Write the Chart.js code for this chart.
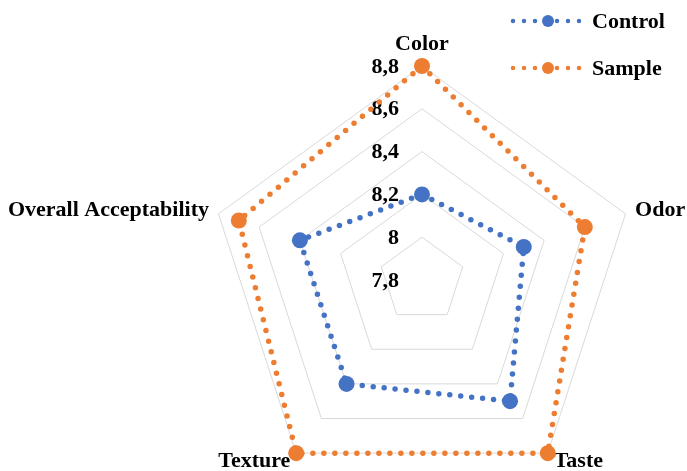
<!DOCTYPE html>
<html>
<head>
<meta charset="utf-8">
<script src="https://cdn.jsdelivr.net/npm/chart.js@4/dist/chart.umd.min.js"></script>
<style>
  html, body { margin: 0; padding: 0; background: #ffffff; }
  #wrap { width: 687px; height: 471px; position: relative; }
</style>
</head>
<body>
<div id="wrap"><canvas id="radar"></canvas></div>
<script>
// Sensory attributes and mean scores
const attributes = ['Color', 'Odor', 'Taste', 'Texture', 'Overall Acceptability'];
const controlScores = [8.2, 8.3, 8.5, 8.4, 8.4];
const sampleScores = [8.8, 8.6, 8.8, 8.8, 8.7];
const tickValues = [7.8, 8.0, 8.2, 8.4, 8.6, 8.8];
const tickLabels = ['7,8', '8', '8,2', '8,4', '8,6', '8,8'];
const seriesNames = ['Control', 'Sample'];

const BLUE = '#4472C4';
const ORANGE = '#ED7D31';
const FONT = 'bold 22px "Liberation Serif", "Times New Roman", serif';

// Labels, tick values and the legend are drawn here with the radial scale's own geometry
const decorations = {
  id: 'decorations',
  beforeDatasetsDraw(chart) {
    const r = chart.scales.r;
    const ctx = chart.ctx;
    ctx.save();
    ctx.font = FONT;
    ctx.fillStyle = '#000000';

    // tick values, right-aligned just left of the vertical axis
    ctx.textAlign = 'right';
    ctx.textBaseline = 'middle';
    tickValues.forEach((v, i) => {
      const d = r.getDistanceFromCenterForValue(v);
      ctx.fillText(tickLabels[i], r.xCenter - 23, r.yCenter - d + 1);
    });

    // attribute names around the outer ring
    attributes.forEach((name, i) => {
      const angle = r.getIndexAngle(i) - Math.PI / 2;
      const cos = Math.cos(angle);
      if (Math.abs(cos) < 0.05) {
        const p = r.getPointPosition(i, r.drawingArea + 22);
        ctx.textAlign = 'center';
        ctx.fillText(name, p.x, p.y);
      } else {
        const p = r.getPointPosition(i, r.drawingArea + 10);
        ctx.textAlign = cos > 0 ? 'left' : 'right';
        ctx.fillText(name, p.x, p.y);
      }
    });
    ctx.restore();
  },
  afterDraw(chart) {
    const ctx = chart.ctx;
    ctx.save();
    ctx.font = FONT;
    ctx.textBaseline = 'middle';
    ctx.textAlign = 'left';
    const rows = [21, 68];
    chart.data.datasets.forEach((ds, i) => {
      const y = rows[i];
      ctx.strokeStyle = ds.borderColor;
      ctx.lineWidth = 4.5;
      ctx.lineCap = 'round';
      ctx.setLineDash([0, 11]);
      ctx.beginPath();
      ctx.moveTo(513, y);
      ctx.lineTo(581, y);
      ctx.stroke();
      ctx.setLineDash([]);
      ctx.fillStyle = ds.borderColor;
      ctx.beginPath();
      ctx.arc(548, y, 6, 0, Math.PI * 2);
      ctx.fill();
      ctx.fillStyle = '#000000';
      ctx.fillText(ds.label, 592, y + 1);
    });
    ctx.restore();
  }
};

const makeSeries = (label, values, color) => ({
  label,
  data: values,
  borderColor: color,
  backgroundColor: color,
  fill: false,
  borderWidth: 5.5,
  borderDash: [0, 11],
  borderCapStyle: 'round',
  pointRadius: 8,
  pointHoverRadius: 8,
  pointBorderWidth: 0,
  pointBackgroundColor: color,
  tension: 0,
  clip: false
});

new Chart(document.getElementById('radar'), {
  type: 'radar',
  data: {
    labels: attributes,
    datasets: [
      makeSeries(seriesNames[0], controlScores, BLUE),
      makeSeries(seriesNames[1], sampleScores, ORANGE)
    ]
  },
  options: {
    responsive: true,
    maintainAspectRatio: false,
    animation: false,
    devicePixelRatio: 1,
    layout: { padding: 0 },
    plugins: {
      legend: { display: false },
      tooltip: { enabled: false }
    },
    scales: {
      r: {
        min: 7.8,
        max: 8.8,
        afterBuildTicks(scale) {
          scale.ticks = tickValues.map(v => ({ value: v }));
        },
        afterFit(scale) {
          scale.xCenter = 422;
          scale.yCenter = 280;
          scale.drawingArea = 214;
        },
        ticks: { display: false },
        pointLabels: { display: false },
        angleLines: { display: false },
        grid: { color: '#d9d9d9', lineWidth: 1 }
      }
    }
  },
  plugins: [decorations]
});
</script>
</body>
</html>
